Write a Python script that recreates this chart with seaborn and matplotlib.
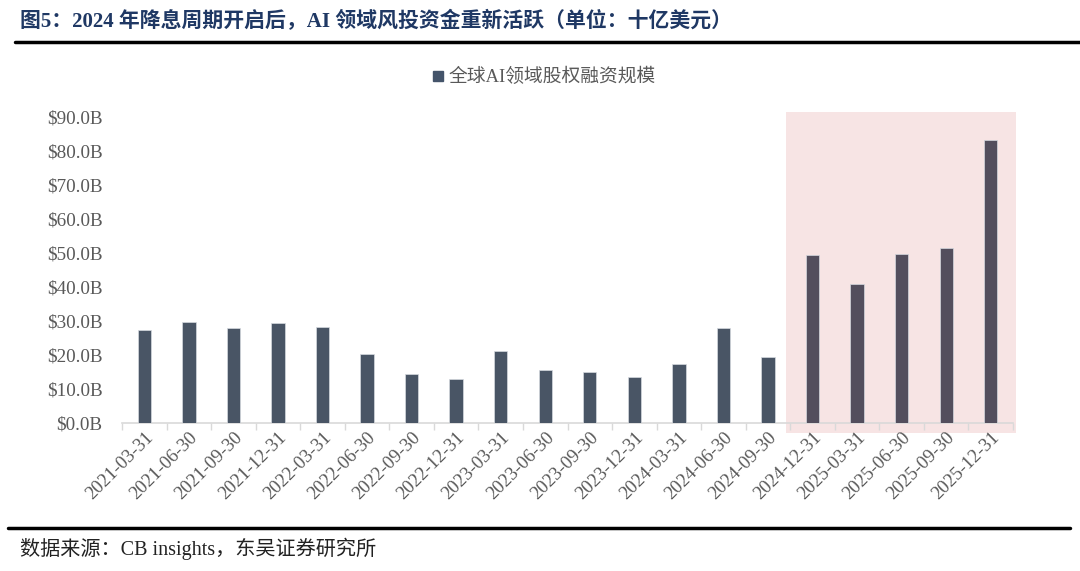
import matplotlib
matplotlib.use("Agg")
import matplotlib.pyplot as plt
import seaborn as sns
import pandas as pd
from matplotlib.patches import Rectangle
from matplotlib.lines import Line2D
from matplotlib.ticker import FixedLocator

# quarterly global AI equity funding, $B
dates = [
    "2021-03-31", "2021-06-30", "2021-09-30", "2021-12-31",
    "2022-03-31", "2022-06-30", "2022-09-30", "2022-12-31",
    "2023-03-31", "2023-06-30", "2023-09-30", "2023-12-31",
    "2024-03-31", "2024-06-30", "2024-09-30", "2024-12-31",
    "2025-03-31", "2025-06-30", "2025-09-30", "2025-12-31",
]
values = [27.4, 29.7, 27.9, 29.3, 28.2, 20.2, 14.5, 13.1, 21.1, 15.5,
          15.1, 13.7, 17.5, 27.9, 19.4, 49.3, 41.0, 49.8, 51.6, 83.2]
y_ticks = [0, 10, 20, 30, 40, 50, 60, 70, 80, 90]
highlight_from = "2024-12-31"

title = "图5：2024 年降息周期开启后，AI 领域风投资金重新活跃（单位：十亿美元）"
legend_label = "全球AI领域股权融资规模"
source = "数据来源：CB insights，东吴证券研究所"

sns.set_theme(style="white")
plt.rcParams["font.family"] = ["Liberation Serif", "Noto Sans CJK SC"]

df = pd.DataFrame({"date": dates, "value": values})
df["period"] = ["after" if d >= highlight_from else "before" for d in dates]

fig = plt.figure(figsize=(10.8, 5.71), dpi=100)
ax = fig.add_axes([0.113, 0.259, 0.825, 0.536])

sns.barplot(data=df, x="date", y="value", hue="period",
            palette={"before": "#44546A", "after": "#524B5F"},
            width=0.3, dodge=False, legend=False, ax=ax, zorder=3,
            edgecolor="#D6DAE0", linewidth=0.5)

# shaded region behind the 2024-12 onwards bars
ax.add_patch(Rectangle((14.4, -3.0), 5.17, 94.5, facecolor="#F7E4E4",
                       edgecolor="none", zorder=0, clip_on=False))

ax.set_xlim(-0.5, len(dates) - 0.5)
ax.set_ylim(0, 90)
ax.set_yticks(y_ticks)
ax.set_yticklabels([f"${v:.1f}B" for v in y_ticks])
ax.set_xlabel("")
ax.set_ylabel("")

for s in ["left", "top", "right"]:
    ax.spines[s].set_visible(False)
ax.spines["bottom"].set_color("#D9D9D9")
ax.spines["bottom"].set_linewidth(1.2)

ax.xaxis.set_minor_locator(FixedLocator([i - 0.5 for i in range(len(dates) + 1)]))
ax.tick_params(axis="x", which="major", length=0, pad=4)
ax.tick_params(axis="x", which="minor", length=5, color="#D9D9D9", width=1, bottom=True)
ax.tick_params(axis="y", length=0, pad=14, labelsize=13.8, labelcolor="#595959")
for lab in ax.get_xticklabels():
    lab.set_rotation(45)
    lab.set_ha("right")
    lab.set_va("top")
    lab.set_rotation_mode("anchor")
    lab.set_fontsize(13.5)
    lab.set_color("#595959")

handle = Line2D([], [], marker="s", linestyle="none", markersize=7,
                markerfacecolor="#44546A", markeredgecolor="#44546A")
fig.legend([handle], [legend_label], loc="center", bbox_to_anchor=(0.503, 0.865),
           frameon=False, fontsize=13.5, labelcolor="#595959",
           handletextpad=0.2, handlelength=0.8)

fig.text(20 / 1080, 1 - 21 / 571, title, fontsize=15, weight="bold",
         color="#1F3864", va="center", ha="left")
fig.add_artist(Line2D([15 / 1080, 1.0], [1 - 42 / 571] * 2, color="black", lw=2.5))
fig.add_artist(Line2D([8 / 1080, 1070 / 1080], [1 - 528 / 571] * 2, color="black", lw=2.5))
fig.text(20 / 1080, 1 - 549 / 571, source, fontsize=14.5, color="#222222",
         va="center", ha="left")

fig.savefig("out.png", dpi=100)
